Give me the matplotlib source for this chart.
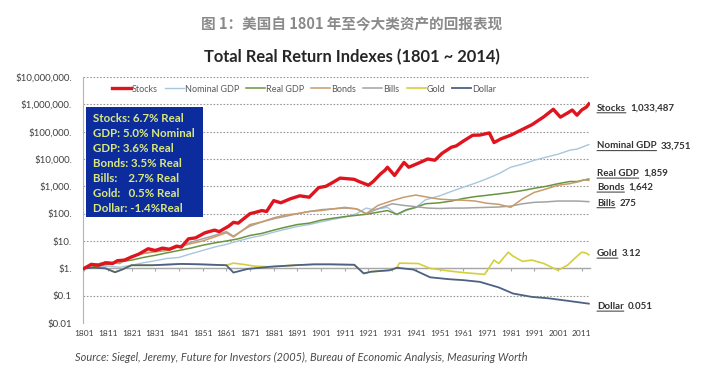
import matplotlib
matplotlib.use("Agg")
import matplotlib.pyplot as plt
from matplotlib.patches import Rectangle

# ---------------- data ----------------
stocks_years = [1801, 1804, 1807, 1810, 1813, 1815, 1818, 1821, 1824, 1828, 1831, 1834, 1837, 1840, 1842,
                1845, 1848, 1852, 1856, 1858, 1862, 1864, 1866, 1871, 1873, 1876, 1878, 1881, 1884, 1888,
                1892, 1896, 1900, 1903, 1906, 1909, 1912, 1915, 1917, 1921, 1923, 1926, 1928, 1929, 1932,
                1936, 1938, 1942, 1946, 1949, 1952, 1956, 1958, 1961, 1965, 1968, 1972, 1974, 1977, 1981,
                1985, 1988, 1990, 1995, 1999, 2002, 2005, 2007, 2009, 2011, 2013, 2014]
stocks_vals = [1, 1.4, 1.3, 1.6, 1.5, 1.9, 2.0, 2.6, 3.3, 5.2, 4.5, 5.5, 5.0, 6.5, 6.0,
               12, 13, 20, 25, 22, 35, 48, 45, 100, 110, 130, 120, 300, 250, 350,
               450, 400, 900, 1000, 1400, 2000, 1900, 1800, 1500, 1100, 1500, 2800, 3900, 5000, 2500,
               7500, 5000, 7000, 10000, 9000, 16000, 27000, 30000, 45000, 74000, 75000, 90000, 40000, 55000, 74000,
               110000, 148000, 180000, 350000, 660000, 340000, 480000, 620000, 400000, 620000, 800000, 1033487]

ngdp_years = [1801, 1806, 1811, 1816, 1821, 1826, 1831, 1836, 1841, 1846, 1851, 1856, 1861, 1864, 1871,
              1876, 1881, 1886, 1891, 1896, 1901, 1906, 1911, 1916, 1920, 1923, 1929, 1933, 1937, 1941,
              1945, 1951, 1956, 1961, 1966, 1971, 1976, 1981, 1986, 1991, 1996, 2001, 2006, 2009, 2014]
ngdp_vals = [1, 1.1, 1.2, 1.1, 1.3, 1.6, 1.9, 2.3, 2.5, 3.4, 4.5, 6, 7.5, 9, 13,
             16, 21, 27, 34, 40, 50, 62, 75, 100, 160, 140, 170, 90, 130, 170,
             320, 450, 650, 930, 1300, 1900, 2900, 5000, 6500, 9000, 11700, 15000, 21000, 23000, 33751]

rgdp_years = [1801, 1806, 1811, 1816, 1821, 1826, 1831, 1836, 1841, 1846, 1851, 1856, 1861, 1866, 1871,
              1876, 1881, 1886, 1891, 1896, 1901, 1906, 1911, 1916, 1920, 1929, 1933, 1937, 1941, 1945,
              1951, 1956, 1961, 1966, 1971, 1976, 1981, 1986, 1991, 1996, 2001, 2006, 2009, 2014]
rgdp_vals = [1, 1.2, 1.4, 1.7, 2.0, 2.5, 3.0, 3.7, 4.5, 5.5, 7, 8.5, 10, 12, 16,
             19, 25, 32, 40, 45, 58, 68, 78, 87, 95, 130, 95, 140, 170, 230,
             250, 290, 360, 420, 470, 530, 600, 700, 850, 1000, 1250, 1500, 1500, 1859]

bonds_years = [1801, 1806, 1811, 1816, 1821, 1826, 1831, 1836, 1841, 1846, 1851, 1856, 1861, 1864, 1868,
               1871, 1876, 1881, 1886, 1891, 1896, 1901, 1906, 1911, 1916, 1920, 1925, 1931, 1936, 1941,
               1946, 1951, 1956, 1961, 1966, 1971, 1976, 1981, 1986, 1991, 1996, 2001, 2006, 2010, 2012, 2014]
bonds_vals = [1, 1.4, 1.6, 1.5, 2.8, 3.5, 4, 4.5, 6, 8, 10, 14, 20, 14, 25,
              40, 50, 70, 90, 100, 120, 130, 150, 170, 150, 100, 200, 300, 400, 480,
              400, 340, 320, 310, 290, 240, 220, 170, 350, 600, 800, 1100, 1250, 1500, 1750, 1642]

bills_years = [1801, 1806, 1811, 1816, 1821, 1826, 1831, 1836, 1841, 1846, 1851, 1856, 1861, 1864, 1868,
               1871, 1876, 1881, 1886, 1891, 1896, 1901, 1906, 1911, 1916, 1920, 1925, 1931, 1936, 1941,
               1946, 1951, 1956, 1961, 1966, 1971, 1976, 1981, 1986, 1991, 1996, 2001, 2006, 2009, 2014]
bills_vals = [1, 1.4, 1.7, 1.6, 2.8, 3.5, 4.3, 5, 6.5, 9, 12, 16, 22, 15, 25,
              35, 50, 65, 80, 100, 120, 140, 150, 160, 150, 100, 150, 230, 200, 180,
              160, 155, 160, 160, 165, 170, 175, 190, 230, 260, 270, 290, 290, 290, 275]

gold_years = [1801, 1805, 1810, 1814, 1817, 1821, 1830, 1842, 1850, 1861, 1864, 1868, 1873, 1878, 1880,
              1890, 1898, 1905, 1915, 1919, 1922, 1930, 1933, 1934, 1942, 1947, 1955, 1961, 1970, 1974,
              1976, 1980, 1982, 1986, 1990, 1995, 2001, 2005, 2008, 2011, 2013, 2014]
gold_vals = [1, 1.05, 1.0, 0.72, 0.9, 1.3, 1.3, 1.45, 1.4, 1.3, 1.55, 1.4, 1.2, 1.15, 1.15,
             1.3, 1.4, 1.4, 1.35, 0.65, 0.75, 0.85, 1.05, 1.55, 1.5, 1.0, 0.8, 0.7, 0.6, 2.0,
             1.5, 3.9, 2.8, 1.8, 2.0, 1.5, 0.85, 1.3, 2.3, 3.9, 3.6, 3.12]

dollar_years = [1801, 1805, 1810, 1814, 1817, 1821, 1830, 1842, 1850, 1861, 1864, 1870, 1880, 1890, 1898,
                1905, 1915, 1919, 1922, 1930, 1933, 1940, 1947, 1955, 1961, 1968, 1976, 1982, 1990, 1997,
                2005, 2014]
dollar_vals = [1, 1.05, 1.0, 0.72, 0.9, 1.3, 1.3, 1.45, 1.4, 1.3, 0.7, 0.95, 1.15, 1.3, 1.4,
               1.4, 1.35, 0.65, 0.75, 0.85, 1.05, 0.9, 0.47, 0.4, 0.37, 0.32, 0.2, 0.12, 0.09, 0.08,
               0.065, 0.051]

series_names = ["Stocks", "Nominal GDP", "Real GDP", "Bonds", "Bills", "Gold", "Dollar"]
end_labels = ["1,033,487", "33,751", "1,859", "1,642", "275", "3.12", "0.051"]
box_lines = ["Stocks: 6.7% Real", "GDP: 5.0% Nominal", "GDP: 3.6% Real", "Bonds: 3.5% Real",
             "Bills:    2.7% Real", "Gold:   0.5% Real", "Dollar: -1.4%Real"]
ytick_vals = [0.01, 0.1, 1, 10, 100, 1000, 10000, 100000, 1000000, 10000000]
ytick_labels = ["$0.01", "$0.1", "$1.", "$10.", "$100.", "$1,000.", "$10,000.", "$100,000.",
                "$1,000,000.", "$10,000,000."]
xtick_years = list(range(1801, 2012, 10))

# ---------------- styling ----------------
colors = ["#e0141e", "#a8c6dc", "#6b9440", "#c99b6a", "#a3a3a3", "#d6cf3c", "#4d6183"]
widths = [2.4, 1.0, 1.1, 1.1, 1.1, 1.2, 1.3]
label_dy = [-3, -1, 4, -5, -1, 1, -2]  # pt offsets of right-side labels

W, H = 717, 386
plt.rcParams["font.family"] = ["Lato", "DejaVu Sans"]
fig = plt.figure(figsize=(W / 100, H / 100), dpi=100)
ax = fig.add_axes([83 / W, 1 - 323 / H, 507 / W, 246 / H])

data = [(stocks_years, stocks_vals), (ngdp_years, ngdp_vals), (rgdp_years, rgdp_vals),
        (bonds_years, bonds_vals), (bills_years, bills_vals), (gold_years, gold_vals),
        (dollar_years, dollar_vals)]
zorders = [10, 3, 4, 5, 4, 6, 7]
lines = []
for (yrs, vals), name, c, lw, z in zip(data, series_names, colors, widths, zorders):
    ln, = ax.plot(yrs, vals, color=c, lw=lw, label=name, zorder=z, solid_joinstyle="round")
    lines.append(ln)

ax.set_yscale("log")
ax.set_ylim(0.01, 1e7)
ax.set_xlim(1800.5, 2014.5)
ax.set_yticks(ytick_vals)
ax.set_yticklabels(ytick_labels)
ax.yaxis.set_minor_locator(matplotlib.ticker.NullLocator())
ax.tick_params(axis="y", length=0, pad=8, labelsize=7, labelcolor="#404040")
ax.grid(axis="y", linestyle=(0, (1.5, 1.5)), color="#9a9a9a", lw=0.8)
for s in ["top", "right"]:
    ax.spines[s].set_visible(False)
ax.spines["left"].set_color("#b5b5b5")
ax.spines["bottom"].set_position(("data", 1))
ax.spines["bottom"].set_color("#a8a8a8")
ax.spines["bottom"].set_linewidth(1.0)
ax.spines["bottom"].set_zorder(2)
ax.set_xticks(xtick_years)
ax.tick_params(axis="x", direction="out", length=2.5, color="#a8a8a8", labelbottom=False)

sec = ax.secondary_xaxis(0)
sec.set_xticks(xtick_years)
sec.set_xticklabels([str(y) for y in xtick_years])
sec.tick_params(length=0, pad=5, labelsize=6, labelcolor="#404040")
sec.spines["bottom"].set_visible(False)

leg = ax.legend(loc="center", bbox_to_anchor=(0.436, 0.951), ncol=7, frameon=False,
                fontsize=6.5, handlelength=2.1, handletextpad=0.1, columnspacing=0.8,
                labelcolor="#595959")

# right-side labels
for ln, name, lab, dy, (yrs, vals) in zip(lines, series_names, end_labels, label_dy, data):
    t = ax.annotate(name, xy=(1, vals[-1]), xycoords=("axes fraction", "data"),
                    xytext=(5, dy), textcoords="offset points", va="center", ha="left",
                    fontsize=7, fontweight="bold", color="#333333", annotation_clip=False)
    ax.annotate(lab, xy=(1, 0.5), xycoords=t, xytext=(3, 0), textcoords="offset points",
                va="center", ha="left", fontsize=7, fontweight="bold", color="#333333",
                annotation_clip=False)
    ax.annotate("", xy=(0, -0.02), xycoords=t, xytext=(1, -0.02), textcoords=t,
                arrowprops=dict(arrowstyle="-", lw=0.7, color="#333333",
                                shrinkA=0, shrinkB=0), annotation_clip=False)

# blue box
fig.patches.append(Rectangle((86 / W, 1 - 217 / H), 117 / W, 110 / H, transform=fig.transFigure,
                             facecolor="#0c2c9e", edgecolor="none", zorder=20))
for i, line in enumerate(box_lines):
    fig.text(93 / W, 1 - (119 + i * 14.9) / H, line, va="center", ha="left", fontsize=8.3,
             fontweight="bold", color="#dbe97c", zorder=21)

# titles
fig.text(0.49, 1 - 24 / H, "图 1：美国自 1801 年至今大类资产的回报表现",
         family=["Noto Sans CJK SC", "DejaVu Sans"], fontsize=10.5, fontweight="bold",
         color="#8a8a8a", ha="center", va="center")
fig.text(352 / W, 1 - 57 / H, "Total Real Return Indexes (1801 ~ 2014)", fontsize=11.9,
         fontweight="bold", color="#262626", ha="center", va="center")
fig.text(75 / W, 1 - 357 / H,
         "Source: Siegel, Jeremy, Future for Investors (2005), Bureau of Economic Analysis, Measuring Worth",
         fontsize=7.9, style="italic", color="#4a4a4a", ha="left", va="center")

fig.savefig("out.png", dpi=100)
